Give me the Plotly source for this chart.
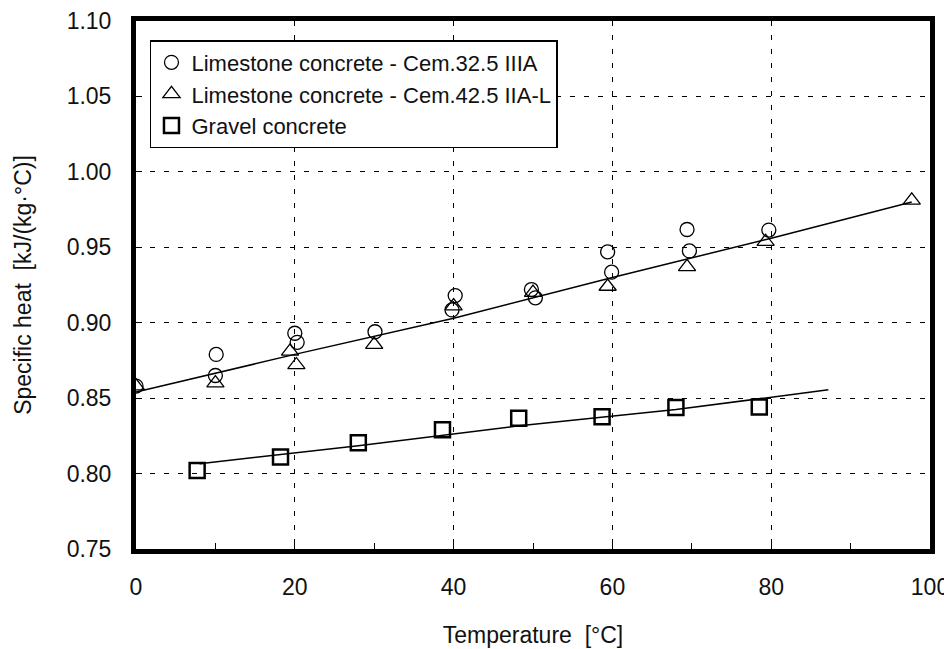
import plotly.graph_objects as go

# Limestone concrete - Cem.32.5 IIIA (circles)
circ_x = [0, 10.1, 10, 20, 20.3, 30.1, 40.2, 39.8, 49.8, 50.3, 59.4, 59.9, 69.4, 69.7, 79.7]
circ_y = [0.858, 0.879, 0.865, 0.893, 0.887, 0.894, 0.918, 0.9085, 0.922, 0.9165, 0.947, 0.9335, 0.9618, 0.9476, 0.9614]

# Limestone concrete - Cem.42.5 IIA-L (triangles)
tri_x = [0, 10, 19.4, 20.2, 30, 40, 50, 59.4, 69.4, 79.3, 97.7]
tri_y = [0.858, 0.860, 0.881, 0.872, 0.8855, 0.911, 0.920, 0.924, 0.937, 0.9537, 0.9811]

# Gravel concrete (squares)
sq_x = [7.7, 18.2, 28, 38.6, 48.2, 58.7, 68, 78.5]
sq_y = [0.8021, 0.811, 0.8204, 0.8291, 0.8366, 0.8377, 0.8438, 0.8442]

# Fitted trend lines
lime_fit_x = [0, 20, 40, 60, 80, 97.7]
lime_fit_y = [0.854, 0.879, 0.903, 0.930, 0.956, 0.980]
grav_fit_x = [8, 28, 48, 68, 87.2]
grav_fit_y = [0.8065, 0.8185, 0.8315, 0.8425, 0.8555]

FONT = "Liberation Sans, Arial, sans-serif"

fig = go.Figure()
fig.add_trace(go.Scatter(x=lime_fit_x, y=lime_fit_y, mode="lines",
                         line=dict(color="black", width=1.5), showlegend=False, hoverinfo="skip"))
fig.add_trace(go.Scatter(x=grav_fit_x, y=grav_fit_y, mode="lines",
                         line=dict(color="black", width=1.5), showlegend=False, hoverinfo="skip"))
fig.add_trace(go.Scatter(x=circ_x, y=circ_y, mode="markers", name="Limestone concrete - Cem.32.5 IIIA",
                         marker=dict(symbol="circle-open", size=14, color="black", line=dict(width=1.3, color="black"))))
fig.add_trace(go.Scatter(x=tri_x, y=tri_y, mode="markers", name="Limestone concrete - Cem.42.5 IIA-L",
                         marker=dict(symbol="triangle-up-open", size=15, color="black", line=dict(width=1.3, color="black"))))
fig.add_trace(go.Scatter(x=sq_x, y=sq_y, mode="markers", name="Gravel concrete",
                         marker=dict(symbol="square-open", size=15, color="black", line=dict(width=2.5, color="black"))))

# page body has an 8px default margin, so the figure is 8px smaller than the window
fig.update_layout(
    width=944, height=641,
    margin=dict(l=128, r=22, t=13, b=100),
    paper_bgcolor="white", plot_bgcolor="white",
    font=dict(family=FONT, size=23, color="#111111"),
    legend=dict(x=0.0176, y=0.964, xanchor="left", yanchor="top",
                bordercolor="black", borderwidth=1.5, bgcolor="white",
                font=dict(size=22), itemwidth=30, tracegroupgap=0),
    xaxis=dict(range=[0, 100], dtick=20, tick0=0, automargin=False,
               showline=True, linewidth=5, linecolor="black", mirror=True,
               showgrid=True, gridcolor="black", gridwidth=1.3, griddash="5px,9px",
               ticks="inside", ticklen=6, tickcolor="black",
               minor=dict(ticks="inside", dtick=10, ticklen=6, tickcolor="black", showgrid=False),
               ticklabelstandoff=13, ticklabeloverflow="allow", zeroline=False,
               title=dict(text="Temperature  [°C]", font=dict(size=23), standoff=30)),
    yaxis=dict(range=[0.75, 1.10], dtick=0.05, tick0=0.75, tickformat=".2f", automargin=False,
               showline=True, linewidth=5, linecolor="black", mirror=True,
               showgrid=True, gridcolor="black", gridwidth=1.3, griddash="5px,9px",
               ticks="inside", ticklen=6, tickcolor="black",
               ticklabelstandoff=15, zeroline=False,
               title=dict(text="Specific heat  [kJ/(kg·°C)]", font=dict(size=23), standoff=30)),
)

fig.write_html("out.html")
